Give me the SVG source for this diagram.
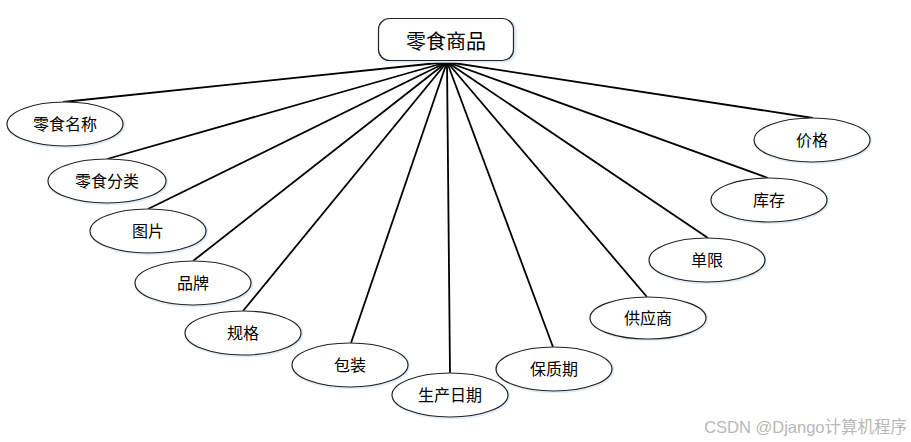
<svg xmlns="http://www.w3.org/2000/svg" width="911" height="442" viewBox="0 0 911 442">
<defs>
<style>
.node ellipse{fill:#fff;stroke:#222;stroke-width:1.2}
.node ellipse.glow,.glow{fill:none;stroke:#e2ecf6;stroke-width:2.5}
.lbl{font-family:"Liberation Sans","Noto Sans CJK SC",sans-serif;font-size:16px;fill:#000;text-anchor:middle;dominant-baseline:central}
.edges line{stroke:#000;stroke-width:1.8}
</style>
</defs>
<rect width="911" height="442" fill="#fff"/>
<g class="edges">
<line x1="447" y1="62" x2="63" y2="102"/>
<line x1="447" y1="62" x2="107" y2="159"/>
<line x1="447" y1="62" x2="148" y2="209"/>
<line x1="447" y1="62" x2="193" y2="261"/>
<line x1="447" y1="62" x2="243" y2="311"/>
<line x1="447" y1="62" x2="351" y2="343"/>
<line x1="447" y1="62" x2="450" y2="373"/>
<line x1="447" y1="62" x2="553" y2="347"/>
<line x1="447" y1="62" x2="647" y2="297"/>
<line x1="447" y1="62" x2="708" y2="238"/>
<line x1="447" y1="62" x2="768" y2="178"/>
<line x1="447" y1="62" x2="813" y2="118"/>
</g>
<g id="root" class="node">
<rect x="379.5" y="19.5" width="136" height="42" rx="11" class="glow"/>
<rect x="378.5" y="18.5" width="135" height="42" rx="11" fill="#fff" stroke="#222" stroke-width="1.2"/>
<text x="446" y="40" class="lbl" style="font-family:'Noto Sans CJK SC',sans-serif;font-size:20px">零食商品</text>
</g>
<g id="n1" class="node"><ellipse cx="66" cy="125" rx="58" ry="22" class="glow"/><ellipse cx="65" cy="124" rx="58" ry="22"/><text x="65" y="124" class="lbl">零食名称</text></g>
<g id="n2" class="node"><ellipse cx="108" cy="182" rx="59" ry="22" class="glow"/><ellipse cx="107" cy="181" rx="59" ry="22"/><text x="107" y="181" class="lbl">零食分类</text></g>
<g id="n3" class="node"><ellipse cx="149" cy="232" rx="58" ry="22" class="glow"/><ellipse cx="148" cy="231" rx="58" ry="22"/><text x="148" y="231" class="lbl">图片</text></g>
<g id="n4" class="node"><ellipse cx="194" cy="284" rx="58" ry="22" class="glow"/><ellipse cx="193" cy="283" rx="58" ry="22"/><text x="193" y="283" class="lbl">品牌</text></g>
<g id="n5" class="node"><ellipse cx="244" cy="334" rx="58" ry="22" class="glow"/><ellipse cx="243" cy="333" rx="58" ry="22"/><text x="243" y="333" class="lbl">规格</text></g>
<g id="n6" class="node"><ellipse cx="351" cy="366" rx="58" ry="22" class="glow"/><ellipse cx="350" cy="365" rx="58" ry="22"/><text x="350" y="365" class="lbl">包装</text></g>
<g id="n7" class="node"><ellipse cx="451" cy="396" rx="58" ry="22" class="glow"/><ellipse cx="450" cy="395" rx="58" ry="22"/><text x="450" y="395" class="lbl">生产日期</text></g>
<g id="n8" class="node"><ellipse cx="555" cy="370" rx="58" ry="22" class="glow"/><ellipse cx="554" cy="369" rx="58" ry="22"/><text x="554" y="369" class="lbl">保质期</text></g>
<g id="n9" class="node"><ellipse cx="649" cy="319" rx="58" ry="21" class="glow"/><ellipse cx="648" cy="318" rx="58" ry="21"/><text x="648" y="318" class="lbl">供应商</text></g>
<g id="n10" class="node"><ellipse cx="708" cy="261" rx="58" ry="22" class="glow"/><ellipse cx="707" cy="260" rx="58" ry="22"/><text x="707" y="260" class="lbl">单限</text></g>
<g id="n11" class="node"><ellipse cx="770" cy="201" rx="58" ry="22" class="glow"/><ellipse cx="769" cy="200" rx="58" ry="22"/><text x="769" y="200" class="lbl">库存</text></g>
<g id="n12" class="node"><ellipse cx="813" cy="141" rx="58" ry="22" class="glow"/><ellipse cx="812" cy="140" rx="58" ry="22"/><text x="812" y="140" class="lbl">价格</text></g>
<text x="907" y="433" text-anchor="end" style="font-family:'Liberation Sans','Noto Sans CJK SC',sans-serif;font-size:16.5px;fill:#b8b8b8">CSDN @Django计算机程序</text>
</svg>
